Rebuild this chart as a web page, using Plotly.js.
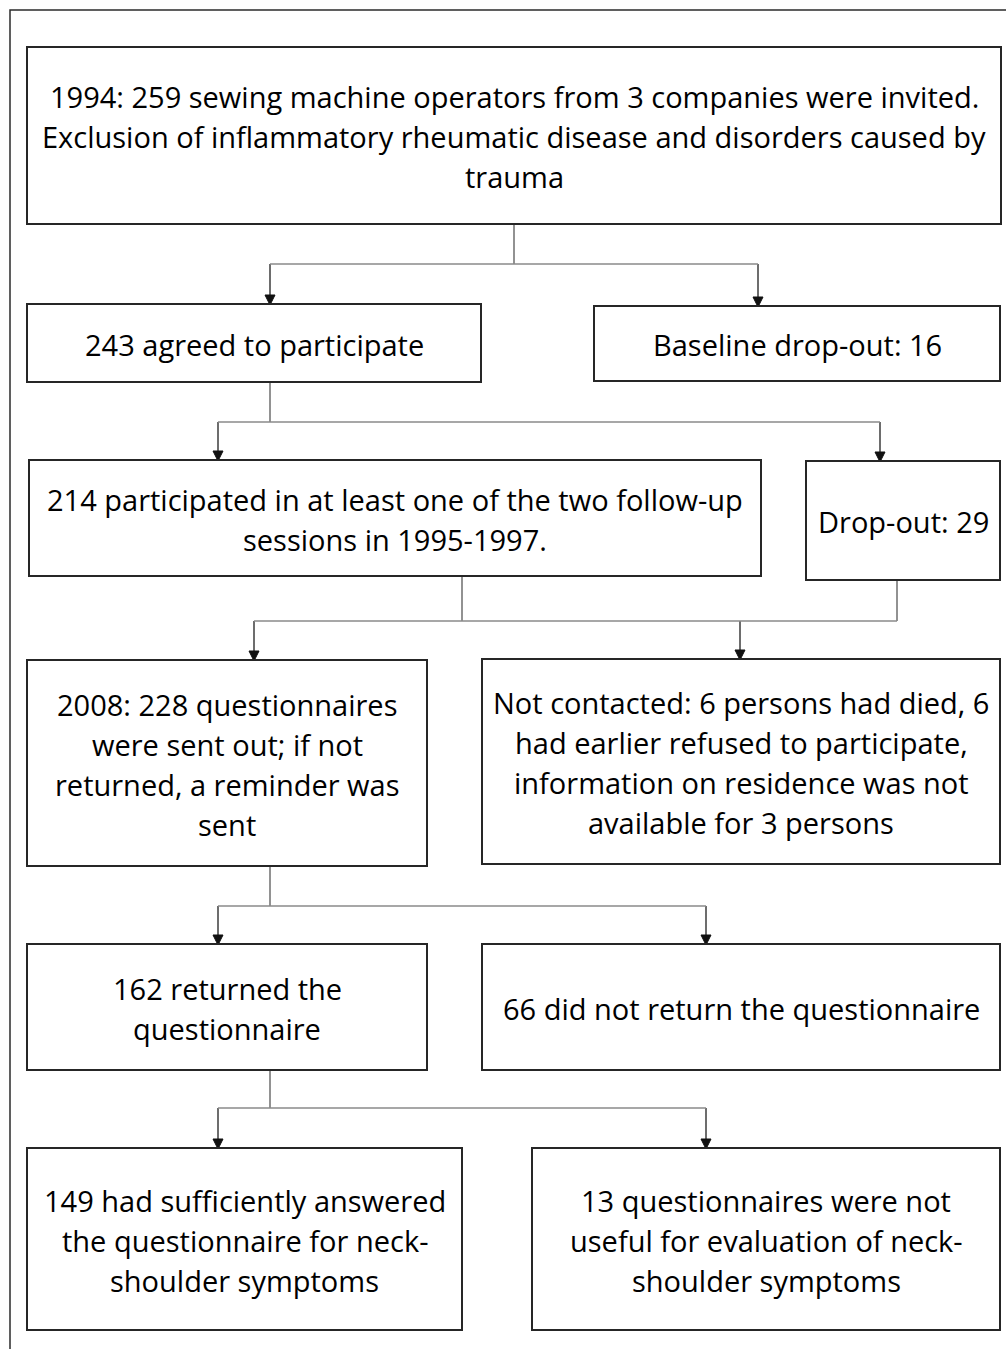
<!DOCTYPE html>
<html>
<head>
<meta charset="utf-8">
<script src="https://cdn.plot.ly/plotly-3.0.1.min.js"></script>
<style>html,body{margin:0;padding:0;background:#fff;}#chart{width:1006px;height:1349px;}</style>
</head>
<body>
<div id="chart"></div>
<script>
// ---- Data: text content of each box (one entry per line) ----
const boxIds = ["invited","agreed","baselineDrop","participated","dropout","sent","notContacted","returned","notReturned","sufficient","notUseful"];
const invitedLines = ["1994: 259 sewing machine operators from 3 companies were invited.","Exclusion of inflammatory rheumatic disease and disorders caused by","trauma"];
const agreedLines = ["243 agreed to participate"];
const baselineDropLines = ["Baseline drop-out: 16"];
const participatedLines = ["214 participated in at least one of the two follow-up","sessions in 1995-1997."];
const dropoutLines = ["Drop-out: 29"];
const sentLines = ["2008: 228 questionnaires","were sent out; if not","returned, a reminder was","sent"];
const notContactedLines = ["Not contacted: 6 persons had died, 6","had earlier refused to participate,","information on residence was not","available for 3 persons"];
const returnedLines = ["162 returned the","questionnaire"];
const notReturnedLines = ["66 did not return the questionnaire"];
const sufficientLines = ["149 had sufficiently answered","the questionnaire for neck-","shoulder symptoms"];
const notUsefulLines = ["13 questionnaires were not","useful for evaluation of neck-","shoulder symptoms"];
const boxTexts = [invitedLines,agreedLines,baselineDropLines,participatedLines,dropoutLines,sentLines,notContactedLines,returnedLines,notReturnedLines,sufficientLines,notUsefulLines];

// ---- Layout geometry (positions in page pixels) ----
const boxGeom = {
  invited:      {x0:27,  x1:1001, y0:47,   y1:224},
  agreed:       {x0:27,  x1:481,  y0:304,  y1:382},
  baselineDrop: {x0:594, x1:1000, y0:306,  y1:381},
  participated: {x0:29,  x1:761,  y0:460,  y1:576},
  dropout:      {x0:806, x1:1000, y0:461,  y1:580},
  sent:         {x0:27,  x1:427,  y0:660,  y1:866},
  notContacted: {x0:482, x1:1000, y0:659,  y1:864},
  returned:     {x0:27,  x1:427,  y0:944,  y1:1070},
  notReturned:  {x0:482, x1:1000, y0:944,  y1:1070},
  sufficient:   {x0:27,  x1:462,  y0:1148, y1:1330},
  notUseful:    {x0:532, x1:1000, y0:1148, y1:1330}
};
const connectors = [
  {from:[["invited",514]], busY:264, to:[["agreed",270],["baselineDrop",758]]},
  {from:[["agreed",270]], busY:422, to:[["participated",218],["dropout",880]]},
  {from:[["participated",462],["dropout",897]], busY:621, to:[["sent",254],["notContacted",740]]},
  {from:[["sent",270]], busY:906, to:[["returned",218],["notReturned",706]]},
  {from:[["returned",270]], busY:1108, to:[["sufficient",218],["notUseful",706]]}
];

const FONT = "Open Sans, sans-serif";
const FONT_SIZE = 29;
const LINE_H = 40;
const shapes = [];
const annotations = [];

// outer frame
shapes.push({type:"rect",xref:"x",yref:"y",x0:10,x1:1012,y0:10,y1:1360,line:{color:"#2b2b2b",width:1.5},fillcolor:"rgba(0,0,0,0)"});

// connectors
const connColor = "#6e6e6e";
connectors.forEach(c => {
  const xs = [];
  c.from.forEach(([id,x]) => {
    xs.push(x);
    shapes.push({type:"line",xref:"x",yref:"y",x0:x,x1:x,y0:boxGeom[id].y1,y1:c.busY,line:{color:connColor,width:1.5}});
  });
  c.to.forEach(([id,x]) => {
    xs.push(x);
    const top = boxGeom[id].y0;
    shapes.push({type:"line",xref:"x",yref:"y",x0:x,x1:x,y0:c.busY,y1:top-6,line:{color:"#3c3c3c",width:1.5}});
    shapes.push({type:"path",xref:"x",yref:"y",path:`M ${x-5} ${top-9} L ${x+5} ${top-9} L ${x} ${top+1} Z`,fillcolor:"#111",line:{color:"#111",width:1}});
  });
  shapes.push({type:"line",xref:"x",yref:"y",x0:Math.min(...xs),x1:Math.max(...xs),y0:c.busY,y1:c.busY,line:{color:"#8a8a8a",width:1.5}});
});

// boxes + text
boxIds.forEach((id,i) => {
  const g = boxGeom[id];
  shapes.push({type:"rect",xref:"x",yref:"y",x0:g.x0,x1:g.x1,y0:g.y0,y1:g.y1,line:{color:"#262626",width:2},fillcolor:"#ffffff",layer:"above"});
  const lines = boxTexts[i];
  const cx = (g.x0+g.x1)/2, cy = (g.y0+g.y1)/2 + 1;
  lines.forEach((t,k) => {
    annotations.push({xref:"x",yref:"y",x:cx,y:cy + (k-(lines.length-1)/2)*LINE_H,text:t,showarrow:false,
      xanchor:"center",yanchor:"middle",font:{family:FONT,size:FONT_SIZE,color:"#000"}});
  });
});

const layout = {
  width:1006,height:1349,margin:{l:0,r:0,t:0,b:0},
  paper_bgcolor:"#fff",plot_bgcolor:"#fff",showlegend:false,
  xaxis:{range:[0,1006],visible:false,fixedrange:true},
  yaxis:{range:[1349,0],visible:false,fixedrange:true},
  shapes:shapes,annotations:annotations
};
Plotly.newPlot("chart",[],layout,{staticPlot:true,displayModeBar:false});
</script>
</body>
</html>
